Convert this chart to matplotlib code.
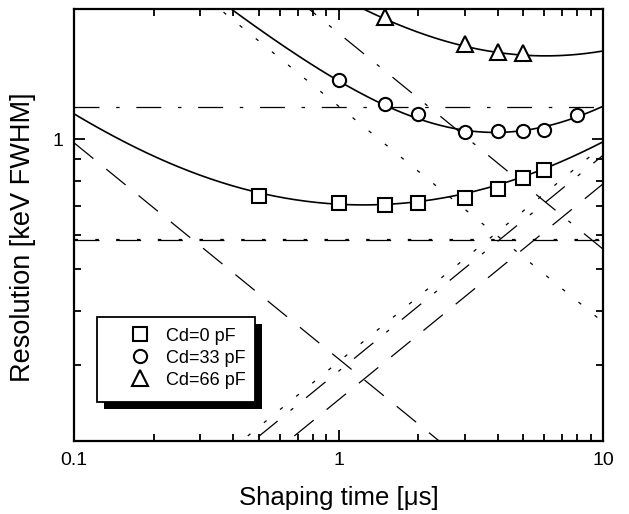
import numpy as np
import matplotlib
matplotlib.use('Agg')
import matplotlib.pyplot as plt
from matplotlib.patches import Rectangle
from matplotlib.ticker import FixedLocator, NullFormatter, FixedFormatter

plt.rcParams['font.family'] = ['Liberation Sans', 'DejaVu Sans']
plt.rcParams['lines.scale_dashes'] = False

# measured points (shaping time in us, resolution in keV FWHM)
tau_cd0 = [0.5, 1, 1.5, 2, 3, 4, 5, 6]
res_cd0 = [0.738, 0.711, 0.703, 0.711, 0.730, 0.766, 0.812, 0.848]
tau_cd33 = [1, 1.5, 2, 3, 4, 5, 6, 8]
res_cd33 = [1.37, 1.205, 1.14, 1.037, 1.043, 1.043, 1.049, 1.136]
tau_cd66 = [1.5, 3, 4, 5]
res_cd66 = [1.917, 1.66, 1.589, 1.581]

labels = ['Cd=0 pF', 'Cd=33 pF', 'Cd=66 pF']
markers = ['s', 'o', '^']
msizes = [9.5, 9.5, 11]

# noise components, value at 1 us
series = [0.310, 1.192, 1.759]    # ~ tau^-1/2
flat = [0.584, 0.588, 1.186]      # 1/f, flat
parallel = [0.249, 0.305, 0.290]  # ~ tau^1/2
styles = [(0, (18, 12)), (0, (2.5, 12.5)), (0, (18, 12, 2.5, 12))]

fig = plt.figure(figsize=(6.29, 5.14), dpi=100)
ax = fig.add_axes([74/629, 73/514, 529/629, 432/514])
ax.set_xscale('log')
ax.set_yscale('log')

t = np.logspace(-1, 1, 300)
for i in range(3):
    ls = styles[i]
    ax.plot(t, series[i] / np.sqrt(t), color='k', lw=0.9, ls=ls)
    ax.plot(t, np.full_like(t, flat[i]), color='k', lw=0.9, ls=ls)
    ax.plot(t, parallel[i] * np.sqrt(t), color='k', lw=0.9, ls=ls)
    total = np.sqrt(series[i]**2 / t + flat[i]**2 + parallel[i]**2 * t)
    ax.plot(t, total, color='k', lw=1.2)

pts = [(tau_cd0, res_cd0), (tau_cd33, res_cd33), (tau_cd66, res_cd66)]
handles = []
for i, (x, y) in enumerate(pts):
    h, = ax.plot(x, y, ls='none', marker=markers[i], ms=msizes[i], mfc='white',
                 mec='k', mew=1.5, label=labels[i], zorder=5)
    handles.append(h)

ax.set_xlim(0.1, 10)
ax.set_ylim(0.2, 2.0)

ax.xaxis.set_major_locator(FixedLocator([0.1, 1, 10]))
ax.xaxis.set_major_formatter(FixedFormatter(['0.1', '1', '10']))
ax.xaxis.set_minor_formatter(NullFormatter())
ax.yaxis.set_major_locator(FixedLocator([1]))
ax.yaxis.set_major_formatter(FixedFormatter(['1']))
ax.yaxis.set_minor_locator(FixedLocator([0.2, 0.3, 0.4, 0.5, 0.6, 0.7, 0.8, 0.9, 2.0]))
ax.yaxis.set_minor_formatter(NullFormatter())
ax.tick_params(which='both', direction='in', top=True, right=True, width=1.3)
ax.tick_params(which='major', length=8, labelsize=14, pad=8)
ax.tick_params(which='minor', length=5)
for s in ax.spines.values():
    s.set_linewidth(1.6)

ax.set_xlabel('Shaping time [\u03bcs]', fontsize=18.5, labelpad=12)
ax.set_ylabel('Resolution [keV FWHM]', fontsize=19.5)
ax.yaxis.set_label_coords(-0.072, 0.472)

# legend box with black drop shadow
ax.add_patch(Rectangle((0.0567, 0.0741), 0.2986, 0.1967, transform=ax.transAxes,
                       facecolor='k', edgecolor='none', zorder=8))
ax.add_patch(Rectangle((0.0435, 0.0903), 0.2986, 0.1967, transform=ax.transAxes,
                       facecolor='white', edgecolor='k', lw=1.3, zorder=9))
leg = ax.legend(handles=handles, loc='center left', bbox_to_anchor=(0.1078, 0.192),
                fontsize=13, frameon=False, borderaxespad=0, borderpad=0,
                handlelength=1.0, handletextpad=0.95, labelspacing=0.28,
                markerscale=1.0)
leg.set_zorder(10)

fig.savefig('out.png', dpi=100)
